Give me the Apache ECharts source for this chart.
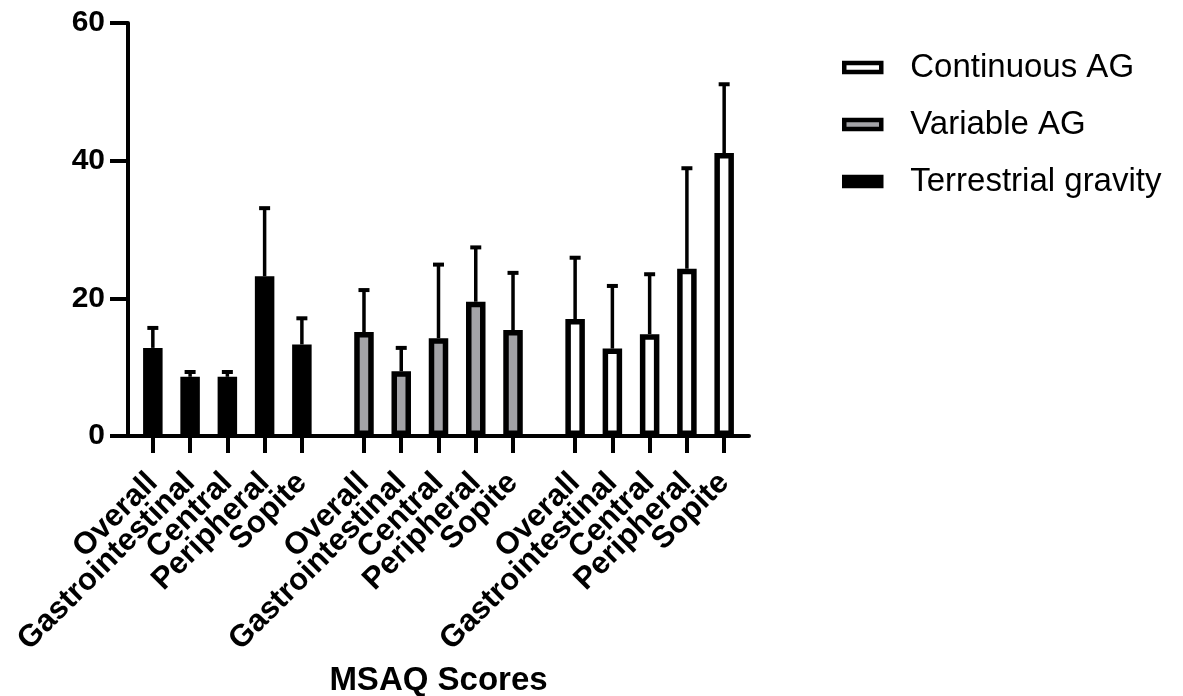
<!DOCTYPE html>
<html>
<head>
<meta charset="utf-8">
<script src="https://cdn.jsdelivr.net/npm/echarts@6/dist/echarts.min.js"></script>
<style>
  html, body { margin: 0; padding: 0; background: #fff; }
  #chart { width: 1183px; height: 696px; }
</style>
</head>
<body>
<div id="chart"></div>
<script>
// MSAQ subscales, one bar each per condition
var subscales = ['Overall', 'Gastrointestinal', 'Central', 'Peripheral', 'Sopite'];
var groups = ['Terrestrial gravity', 'Variable AG', 'Continuous AG'];

var terrestrialMean = [12.8, 8.6, 8.6, 23.2, 13.3];
var terrestrialSD   = [2.9, 0.7, 0.7, 9.9, 3.8];
var variableMean    = [15.1, 9.4, 14.2, 19.5, 15.4];
var variableSD      = [6.1, 3.4, 10.7, 7.9, 8.3];
var continuousMean  = [17.0, 12.7, 14.8, 24.3, 41.1];
var continuousSD    = [8.9, 9.1, 8.7, 14.6, 10.0];

var yTicks = [0, 20, 40, 60];

var means = [terrestrialMean, variableMean, continuousMean];
var sds = [terrestrialSD, variableSD, continuousSD];
var fills = ['#000000', '#a3a3a7', '#ffffff'];

// the axis is cut in thirds of a bar pitch so the gap between groups is 2/3 of a pitch
function slotOf(g, i) { return 2 + g * 17 + i * 3; }
var slots = [];
for (var k = 0; k <= 50; k++) slots.push('');
groups.forEach(function (g, gi) {
  subscales.forEach(function (s, i) { slots[slotOf(gi, i)] = s; });
});

var font = '"Liberation Sans", Arial, sans-serif';

function errorRender(params, api) {
  var x = api.value(0);
  var p0 = api.coord([x, api.value(1)]);
  var p1 = api.coord([x, api.value(2)]);
  return {
    type: 'group',
    children: [
      { type: 'line', shape: { x1: p0[0], y1: p0[1], x2: p1[0], y2: p1[1] },
        style: { stroke: '#000', lineWidth: 3.5 } },
      { type: 'line', shape: { x1: p1[0] - 5.5, y1: p1[1], x2: p1[0] + 5.5, y2: p1[1] },
        style: { stroke: '#000', lineWidth: 4 } }
    ]
  };
}

var series = [];
groups.forEach(function (g, gi) {
  series.push({
    name: g,
    type: 'bar',
    barWidth: 19.5,
    barGap: '-100%',
    itemStyle: { color: fills[gi], borderColor: '#000', borderWidth: 5.5 },
    data: means[gi].map(function (v, i) { return [slotOf(gi, i), v]; }),
    z: 2
  });
  series.push({
    name: g + ' SD',
    type: 'custom',
    renderItem: errorRender,
    encode: { x: 0, y: [1, 2] },
    data: means[gi].map(function (v, i) { return [slotOf(gi, i), v, v + sds[gi][i]]; }),
    z: 1
  });
});

var myChart = echarts.init(document.getElementById('chart'));
var option = {
  backgroundColor: '#fff',
  animation: false,
  grid: { left: 128, right: 434, top: 23, bottom: 260, containLabel: false, outerBoundsMode: 'none' },
  legend: {
    orient: 'vertical',
    left: 837,
    top: 46,
    icon: 'rect',
    itemWidth: 37,
    itemHeight: 9,
    itemGap: 24,
    textStyle: { fontFamily: font, fontSize: 33, color: '#000', padding: [0, 0, 0, 24] },
    data: [
      { name: 'Continuous AG', itemStyle: { color: '#fff', borderColor: '#000', borderWidth: 4.5 } },
      { name: 'Variable AG', itemStyle: { color: '#a3a3a7', borderColor: '#000', borderWidth: 4.5 } },
      { name: 'Terrestrial gravity', itemStyle: { color: '#000', borderColor: '#000', borderWidth: 4.5 } }
    ]
  },
  xAxis: {
    type: 'category',
    data: slots,
    boundaryGap: false,
    name: 'MSAQ Scores',
    nameLocation: 'middle',
    nameGap: 228,
    nameTextStyle: { fontFamily: font, fontSize: 33, fontWeight: 'bold', color: '#000' },
    axisLine: { lineStyle: { color: '#000', width: 4 } },
    axisTick: {
      length: 17,
      lineStyle: { color: '#000', width: 4 },
      interval: function (index, value) { return value !== ''; }
    },
    axisLabel: {
      interval: 0,
      rotate: 45,
      margin: 42,
      fontFamily: font,
      fontSize: 31,
      fontWeight: 'bold',
      color: '#000'
    },
    splitLine: { show: false }
  },
  yAxis: {
    type: 'value',
    min: yTicks[0],
    max: yTicks[yTicks.length - 1],
    interval: yTicks[1] - yTicks[0],
    axisLine: { show: true, lineStyle: { color: '#000', width: 4 } },
    axisTick: { show: true, length: 18, lineStyle: { color: '#000', width: 4 } },
    axisLabel: { margin: 23, fontFamily: font, fontSize: 30, fontWeight: 'bold', color: '#000' },
    splitLine: { show: false }
  },
  series: series
};
myChart.setOption(option);
window.onresize = myChart.resize;
</script>
</body>
</html>
